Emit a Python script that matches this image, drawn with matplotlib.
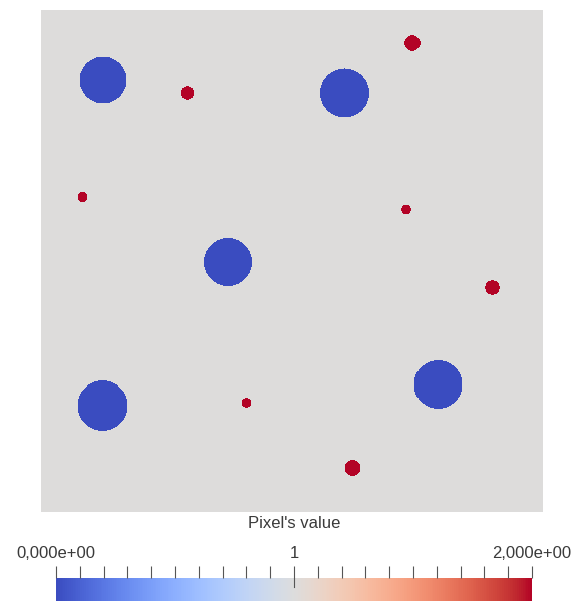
#!/usr/bin/env python3
"""Synthetic pixel field: large low-value discs and small high-value discs on a flat background."""

import matplotlib
matplotlib.use("Agg")
import matplotlib.pyplot as plt
import numpy as np


# domain is 0..100 in both directions
BACKGROUND = 1.0

blue_x = [12.4, 60.5, 37.2, 12.3, 79.1]
blue_y = [86.0, 83.4, 49.8, 21.2, 25.4]
blue_r = [4.7, 4.9, 4.8, 5.0, 4.8]
blue_value = 0.0

red_x = [74.0, 29.1, 8.3, 72.8, 89.9, 40.9, 62.1]
red_y = [93.4, 83.4, 62.8, 60.3, 44.7, 21.8, 8.8]
red_r = [1.55, 1.35, 1.0, 0.95, 1.45, 0.95, 1.6]
red_value = 2.0

cbar_ticks = [0.0, 1.0, 2.0]
cbar_labels = ["0,000e+00", "1", "2,000e+00"]
cbar_minor = np.round(np.arange(0.0, 2.01, 0.1), 2)

TEXT = "#3a3a3a"
N = 500


def build_field() -> np.ndarray:
    c = (np.arange(N) + 0.5) * 100.0 / N
    xx, yy = np.meshgrid(c, c)
    field = np.full((N, N), BACKGROUND)
    for x, y, r in zip(blue_x, blue_y, blue_r):
        field[(xx - x) ** 2 + (yy - y) ** 2 <= r ** 2] = blue_value
    for x, y, r in zip(red_x, red_y, red_r):
        field[(xx - x) ** 2 + (yy - y) ** 2 <= r ** 2] = red_value
    return field


def main() -> None:
    plt.rcParams["font.family"] = ["Liberation Sans", "DejaVu Sans"]
    fig = plt.figure(figsize=(5.76, 6.01), dpi=100)

    ax = fig.add_axes([40 / 576, 1 - 511.5 / 601, 502.5 / 576, 501.5 / 601])
    im = ax.imshow(build_field(), cmap="coolwarm", vmin=0.0, vmax=2.0,
                   origin="lower", extent=(0, 100, 0, 100), interpolation="nearest")
    ax.set_axis_off()

    fig.text(294 / 576, 1 - 524 / 601, "Pixel's value", ha="center", va="center",
             fontsize=12, color=TEXT)

    cax = fig.add_axes([56 / 576, 0.0, 476 / 576, 23 / 601])
    cbar = fig.colorbar(im, cax=cax, orientation="horizontal")
    cbar.outline.set_visible(False)
    cax.xaxis.set_ticks_position("top")
    cax.set_xticks(cbar_ticks)
    cax.set_xticklabels(cbar_labels)
    cax.set_xticks(cbar_minor, minor=True)
    cax.tick_params(axis="x", which="both", direction="out", length=8.6, width=0.8,
                    colors="#555555", labelcolor=TEXT, labelsize=12, pad=4)
    cax.axvline(1.0, ymin=0.61, ymax=1.0, color="#555555", linewidth=0.8)

    fig.savefig("out.png", dpi=100)
    plt.close(fig)


if __name__ == "__main__":
    main()
